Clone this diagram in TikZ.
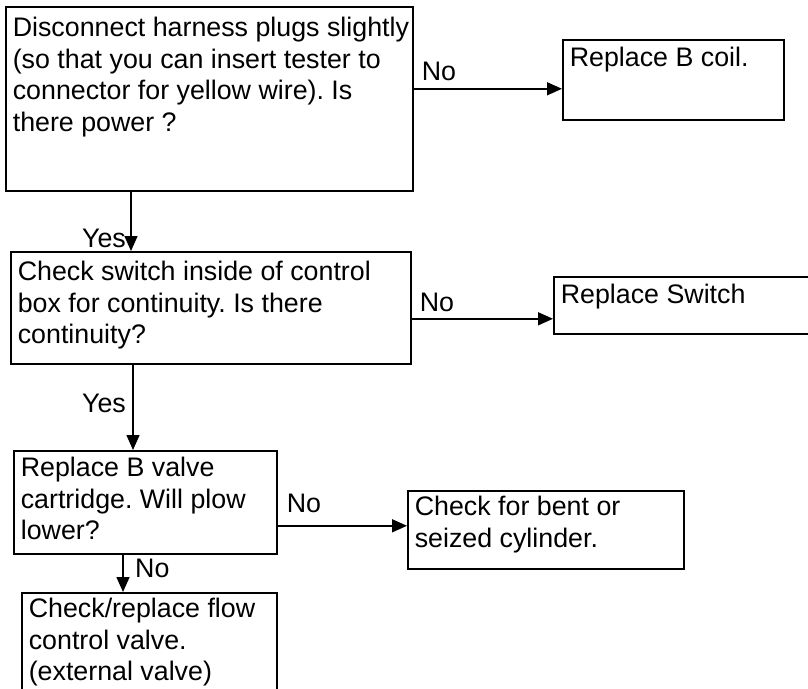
\documentclass[tikz,border=0pt]{standalone}
\usepackage{fontspec}
\setmainfont{Liberation Sans}
\usetikzlibrary{arrows.meta}
\frenchspacing

% Box body: width, height, first-baseline offset, lines separated by \\
\newcommand\boxlines[4]{%
  \begin{minipage}[t][#2][t]{#1}%
    \rule{0pt}{#3}\begin{tabular}[t]{@{}l@{}}#4\end{tabular}%
  \end{minipage}}

\tikzset{
  chartfont/.style={font=\fontsize{26.8}{31.5}\selectfont},
  stepbox/.style={draw, line width=1.6pt, inner xsep=7pt, inner ysep=0pt,
                  anchor=north west, chartfont},
  arr/.style={line width=1.5pt, -{Triangle[length=15pt,width=13pt]}},
  lbl/.style={inner sep=0pt, chartfont}
}

\begin{document}
\begin{tikzpicture}[x=1pt,y=-1pt]
  \fill[white] (0,0) rectangle (808,688);
  \clip (0,0) rectangle (808,688);

  % decision and action boxes
  \node[stepbox] (power) at (5,6)
    {\boxlines{393pt}{184pt}{30pt}{Disconnect harness plugs slightly\\(so that you can insert tester to\\connector for yellow wire). Is\\there power ?}};
  \node[stepbox] (coil) at (562,39)
    {\boxlines{207pt}{80pt}{27pt}{Replace B coil.}};
  \node[stepbox] (switch) at (10,251)
    {\boxlines{386pt}{112pt}{29pt}{Check switch inside of control\\box for continuity. Is there\\continuity?}};
  \node[stepbox] (repsw) at (553,276)
    {\boxlines{248pt}{57pt}{27pt}{Replace Switch}};
  \node[stepbox] (valve) at (13,450)
    {\boxlines{249pt}{103pt}{26pt}{Replace B valve\\cartridge. Will plow\\lower?}};
  \node[stepbox] (cyl) at (407,490)
    {\boxlines{262pt}{78pt}{25pt}{Check for bent or\\seized cylinder.}};
  \node[stepbox] (flow) at (21,592)
    {\boxlines{241pt}{100pt}{25pt}{Check/replace flow\\control valve.\\(external valve)}};

  % power? -- No --> replace coil
  \coordinate (p1) at ([yshift=10pt]power.east);
  \draw[arr] (p1) -- (p1 -| coil.west);
  \node[lbl, anchor=base west] (no1) at ([xshift=8pt,yshift=8pt]p1) {No};

  % power? -- Yes --> switch check
  \coordinate (p2) at ([xshift=126pt]power.south west);
  \draw[arr] (p2) -- (p2 |- switch.north);
  \node[lbl, anchor=base east] (yes1) at ([xshift=-5pt,yshift=4pt]p2 |- switch.north) {Yes};

  % continuity? -- No --> replace switch
  \coordinate (p3) at ([yshift=-11pt]switch.east);
  \draw[arr] (p3) -- (p3 -| repsw.west);
  \node[lbl, anchor=base west] (no2) at ([xshift=8pt,yshift=7pt]p3) {No};

  % continuity? -- Yes --> valve cartridge
  \coordinate (p4) at ([xshift=123pt]switch.south west);
  \draw[arr] (p4) -- (p4 |- valve.north);
  \node[lbl, anchor=base east] (yes2) at ([xshift=-7pt,yshift=38pt]p4 |- valve.north) {Yes};

  % plow lowers? -- No --> cylinder check
  \coordinate (p5) at ([yshift=-23.5pt]valve.east);
  \draw[arr] (p5) -- (p5 -| cyl.west);
  \node[lbl, anchor=base west] (no3) at ([xshift=9pt,yshift=13pt]p5) {No};

  % plow lowers? -- No --> flow control valve
  \coordinate (p6) at ([xshift=110pt]valve.south west);
  \draw[arr] (p6) -- (p6 |- flow.north);
  \node[lbl, anchor=base west] (no4) at ([xshift=12pt,yshift=15pt]p6 |- flow.north) {No};
\end{tikzpicture}
\end{document}
